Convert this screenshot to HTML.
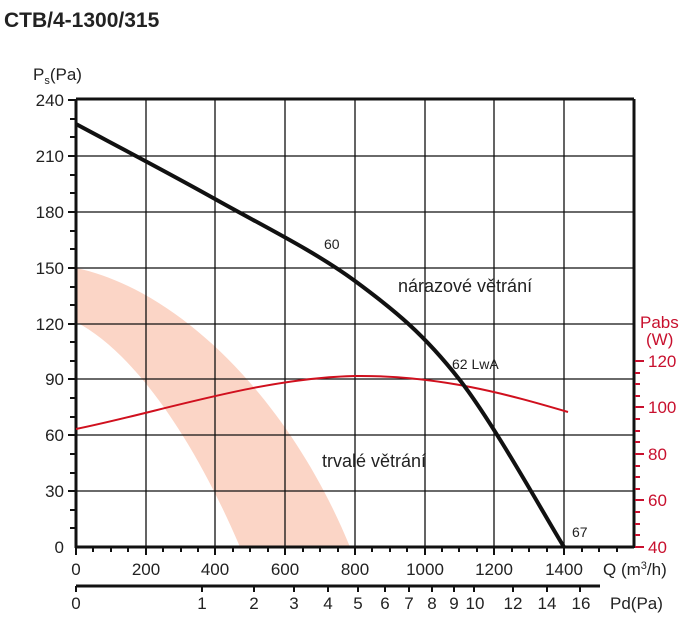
<!DOCTYPE html>
<html><head><meta charset="utf-8"><style>
body{margin:0;background:#fff}
svg text{font-family:"Liberation Sans",Arial,sans-serif}
</style></head><body>
<svg width="693" height="631" viewBox="0 0 693 631" xmlns="http://www.w3.org/2000/svg">
<text x="4" y="27" font-size="21" font-weight="bold" fill="#222">CTB/4-1300/315</text>
<path d="M76,268 C180,290 290,400 350,547 L240,547 C190,430 130,350 76,322 Z" fill="#fbd5c6"/>
<g stroke="#111" stroke-width="1.3">
<line x1="76" y1="156" x2="634" y2="156"/><line x1="76" y1="212" x2="634" y2="212"/>
<line x1="76" y1="268" x2="634" y2="268"/><line x1="76" y1="324" x2="634" y2="324"/>
<line x1="76" y1="379" x2="634" y2="379"/><line x1="76" y1="435" x2="634" y2="435"/>
<line x1="76" y1="491" x2="634" y2="491"/>
<line x1="146" y1="100" x2="146" y2="547"/><line x1="215" y1="100" x2="215" y2="547"/>
<line x1="285" y1="100" x2="285" y2="547"/><line x1="355" y1="100" x2="355" y2="547"/>
<line x1="425" y1="100" x2="425" y2="547"/><line x1="494" y1="100" x2="494" y2="547"/>
<line x1="564" y1="100" x2="564" y2="547"/>
</g>
<g stroke="#111" stroke-width="3" fill="none">
<line x1="76" y1="99" x2="634" y2="99"/>
<line x1="76" y1="99" x2="76" y2="548"/>
<line x1="75" y1="547" x2="634" y2="547"/>
<line x1="634" y1="99" x2="634" y2="548"/>
<line x1="76" y1="586" x2="600" y2="586"/>
</g>
<g stroke="#111" stroke-width="2">
<line x1="68" y1="100" x2="76" y2="100"/><line x1="70" y1="119" x2="76" y2="119"/><line x1="70" y1="137" x2="76" y2="137"/>
<line x1="68" y1="156" x2="76" y2="156"/><line x1="70" y1="175" x2="76" y2="175"/><line x1="70" y1="193" x2="76" y2="193"/>
<line x1="68" y1="212" x2="76" y2="212"/><line x1="70" y1="231" x2="76" y2="231"/><line x1="70" y1="249" x2="76" y2="249"/>
<line x1="68" y1="268" x2="76" y2="268"/><line x1="70" y1="287" x2="76" y2="287"/><line x1="70" y1="305" x2="76" y2="305"/>
<line x1="68" y1="324" x2="76" y2="324"/><line x1="70" y1="342" x2="76" y2="342"/><line x1="70" y1="361" x2="76" y2="361"/>
<line x1="68" y1="379" x2="76" y2="379"/><line x1="70" y1="398" x2="76" y2="398"/><line x1="70" y1="417" x2="76" y2="417"/>
<line x1="68" y1="435" x2="76" y2="435"/><line x1="70" y1="454" x2="76" y2="454"/><line x1="70" y1="473" x2="76" y2="473"/>
<line x1="68" y1="491" x2="76" y2="491"/><line x1="70" y1="510" x2="76" y2="510"/><line x1="70" y1="528" x2="76" y2="528"/>
<line x1="76" y1="547" x2="76" y2="555"/><line x1="93" y1="547" x2="93" y2="552"/><line x1="111" y1="547" x2="111" y2="552"/><line x1="128" y1="547" x2="128" y2="552"/>
<line x1="146" y1="547" x2="146" y2="555"/><line x1="163" y1="547" x2="163" y2="552"/><line x1="181" y1="547" x2="181" y2="552"/><line x1="198" y1="547" x2="198" y2="552"/>
<line x1="215" y1="547" x2="215" y2="555"/><line x1="233" y1="547" x2="233" y2="552"/><line x1="250" y1="547" x2="250" y2="552"/><line x1="268" y1="547" x2="268" y2="552"/>
<line x1="285" y1="547" x2="285" y2="555"/><line x1="303" y1="547" x2="303" y2="552"/><line x1="320" y1="547" x2="320" y2="552"/><line x1="338" y1="547" x2="338" y2="552"/>
<line x1="355" y1="547" x2="355" y2="555"/><line x1="372" y1="547" x2="372" y2="552"/><line x1="390" y1="547" x2="390" y2="552"/><line x1="407" y1="547" x2="407" y2="552"/>
<line x1="425" y1="547" x2="425" y2="555"/><line x1="442" y1="547" x2="442" y2="552"/><line x1="459" y1="547" x2="459" y2="552"/><line x1="477" y1="547" x2="477" y2="552"/>
<line x1="494" y1="547" x2="494" y2="555"/><line x1="512" y1="547" x2="512" y2="552"/><line x1="529" y1="547" x2="529" y2="552"/><line x1="547" y1="547" x2="547" y2="552"/>
<line x1="564" y1="547" x2="564" y2="555"/><line x1="582" y1="547" x2="582" y2="552"/><line x1="599" y1="547" x2="599" y2="552"/><line x1="617" y1="547" x2="617" y2="552"/>
<line x1="76" y1="586" x2="76" y2="592"/><line x1="202" y1="586" x2="202" y2="592"/><line x1="254" y1="586" x2="254" y2="592"/>
<line x1="294" y1="586" x2="294" y2="592"/><line x1="328" y1="586" x2="328" y2="592"/><line x1="358" y1="586" x2="358" y2="592"/>
<line x1="385" y1="586" x2="385" y2="592"/><line x1="409" y1="586" x2="409" y2="592"/><line x1="432" y1="586" x2="432" y2="592"/>
<line x1="454" y1="586" x2="454" y2="592"/><line x1="474" y1="586" x2="474" y2="592"/><line x1="513" y1="586" x2="513" y2="592"/>
<line x1="547" y1="586" x2="547" y2="592"/><line x1="580" y1="586" x2="580" y2="592"/>
</g>
<g stroke="#c8102e" stroke-width="2">
<line x1="635" y1="361" x2="644" y2="361"/><line x1="635" y1="407" x2="644" y2="407"/><line x1="635" y1="454" x2="644" y2="454"/><line x1="635" y1="500" x2="644" y2="500"/><line x1="635" y1="547" x2="644" y2="547"/>
<line x1="635" y1="373" x2="640" y2="373"/><line x1="635" y1="384" x2="640" y2="384"/><line x1="635" y1="396" x2="640" y2="396"/>
<line x1="635" y1="419" x2="640" y2="419"/><line x1="635" y1="431" x2="640" y2="431"/><line x1="635" y1="442" x2="640" y2="442"/>
<line x1="635" y1="466" x2="640" y2="466"/><line x1="635" y1="477" x2="640" y2="477"/><line x1="635" y1="489" x2="640" y2="489"/>
<line x1="635" y1="512" x2="640" y2="512"/><line x1="635" y1="524" x2="640" y2="524"/><line x1="635" y1="535" x2="640" y2="535"/>
</g>
<path d="M76,429 C160,412 260,378 355,376 C440,375 510,395 568,412" fill="none" stroke="#d0101e" stroke-width="2"/>
<path d="M76,124 C99,136.5 168.5,172.8 215,199 C261.5,225.2 314.3,251 355,281 C395.7,311 424.2,334.7 459,379 C493.8,423.3 546.5,519 564,547" fill="none" stroke="#111" stroke-width="4"/>
<g font-size="17" fill="#222" text-anchor="end">
<text x="64" y="106">240</text><text x="64" y="162">210</text><text x="64" y="218">180</text><text x="64" y="274">150</text>
<text x="64" y="330">120</text><text x="64" y="385">90</text><text x="64" y="441">60</text><text x="64" y="497">30</text><text x="64" y="553">0</text>
</g>
<g font-size="17" fill="#222" text-anchor="middle">
<text x="76" y="575">0</text><text x="146" y="575">200</text><text x="215" y="575">400</text><text x="285" y="575">600</text>
<text x="355" y="575">800</text><text x="425" y="575">1000</text><text x="494" y="575">1200</text><text x="564" y="575">1400</text>
<text x="76" y="609">0</text><text x="202" y="609">1</text><text x="254" y="609">2</text><text x="294" y="609">3</text><text x="328" y="609">4</text>
<text x="358" y="609">5</text><text x="385" y="609">6</text><text x="409" y="609">7</text><text x="432" y="609">8</text><text x="454" y="609">9</text>
<text x="475" y="609">10</text><text x="513" y="609">12</text><text x="547" y="609">14</text><text x="581" y="609">16</text>
</g>
<text x="603" y="575" font-size="17" fill="#222">Q (m<tspan font-size="11" dy="-6">3</tspan><tspan dy="6">/h)</tspan></text>
<text x="610" y="609" font-size="17" fill="#222">Pd(Pa)</text>
<text x="33" y="80" font-size="17" fill="#222">P<tspan font-size="11" dy="4">s</tspan><tspan dy="-4">(Pa)</tspan></text>
<g font-size="17" fill="#c8102e">
<text x="640" y="328">Pabs</text><text x="646" y="345">(W)</text>
<text x="648" y="367">120</text><text x="648" y="413">100</text><text x="648" y="460">80</text><text x="648" y="506">60</text><text x="648" y="553">40</text>
</g>
<g fill="#222">
<text x="324" y="249" font-size="14">60</text>
<text x="452" y="369" font-size="14">62 LwA</text>
<text x="572" y="537" font-size="14">67</text>
<text x="398" y="292" font-size="18">nárazové větrání</text>
<text x="322" y="467" font-size="18">trvalé větrání</text>
</g>
</svg>
</body></html>
